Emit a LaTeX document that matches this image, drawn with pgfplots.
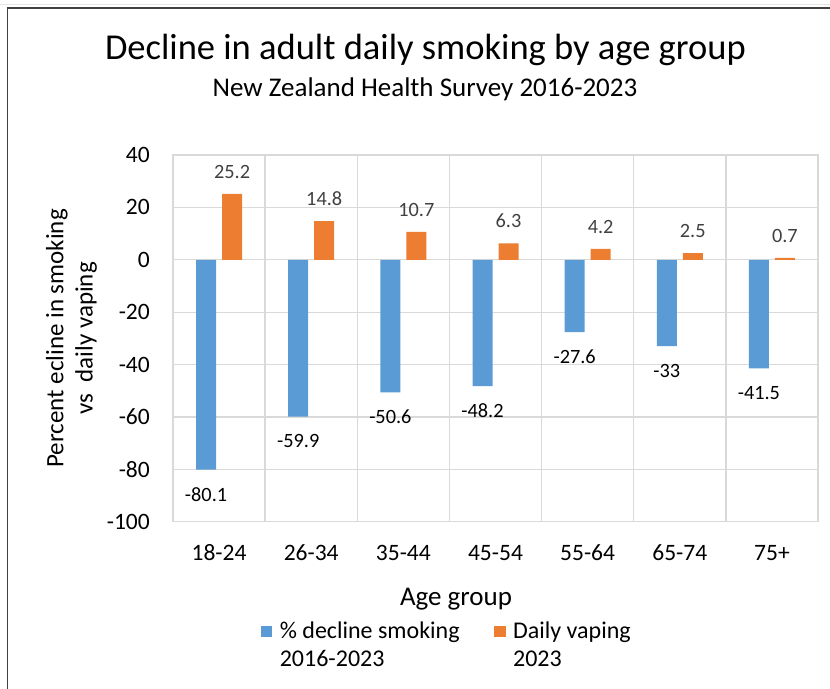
\documentclass[border=0pt]{standalone}
\usepackage{pgfplots}
\pgfplotsset{compat=1.18}
\usepackage{fontspec}
\setmainfont{Carlito}

\definecolor{smokeblue}{HTML}{5B9BD5}
\definecolor{vapeorange}{HTML}{ED7D31}
\definecolor{gridgray}{HTML}{D9D9D9}
\definecolor{framegray}{HTML}{404040}
\definecolor{labelgray}{HTML}{404040}

\newcommand{\titlefont}{\fontsize{36.5bp}{44bp}\selectfont}
\newcommand{\subtitlefont}{\fontsize{27bp}{32bp}\selectfont}
\newcommand{\axistitlefont}{\fontsize{27bp}{32bp}\selectfont}
\newcommand{\ylabelfont}{\fontsize{25bp}{29.4bp}\selectfont}
\newcommand{\tickfont}{\fontsize{23.5bp}{28bp}\selectfont}
\newcommand{\legendfont}{\fontsize{24bp}{28.4bp}\selectfont}
\newcommand{\datafont}{\fontsize{20.3bp}{24bp}\selectfont}

\pgfplotsset{
  squarelegend/.style={
    legend image code/.code={\fill[##1] (0bp,1bp) rectangle (11.6bp,12.3bp);}
  },
}

\begin{document}
\begin{tikzpicture}
\useasboundingbox (0,0) rectangle (830bp,-689bp);
% outer chart frame
\draw[gridgray!70, line width=1bp] (0bp,-4.5bp) -- (830bp,-4.5bp);
\draw[framegray, line width=1.6bp] (7.5bp,-689bp) -- (7.5bp,-8bp) -- (830bp,-8bp);
% titles
\node[anchor=base, font=\titlefont, inner sep=0pt] at (425.4bp,-59.3bp)
  {Decline in adult daily smoking by age group};
\node[anchor=base, font=\subtitlefont, inner sep=0pt] at (425bp,-96bp)
  {New Zealand Health Survey 2016-2023};

\begin{axis}[
  at={(173bp,-521.7bp)}, anchor=south west,
  scale only axis, width=645bp, height=366.7bp,
  xmin=-0.5, xmax=6.5, ymin=-100, ymax=40,
  ybar=6bp, bar width=20bp,
  xtick={0,...,6},
  xticklabels={18-24,26-34,35-44,45-54,55-64,65-74,75+},
  minor xtick={0.5,1.5,...,5.5},
  ytick={-100,-80,-60,-40,-20,0,20,40},
  xminorgrids, ymajorgrids,
  major tick length=0pt, minor tick length=0pt,
  tick style={draw=none},
  axis line style={draw=gridgray, line width=1.3bp},
  major grid style={draw=gridgray, line width=1.3bp},
  minor grid style={draw=gridgray, line width=1.3bp},
  /pgf/number format/assume math mode=true,
  yticklabel style={font=\tickfont, text=black, inner sep=0pt, anchor=east, xshift=-23bp},
  xticklabel style={font=\tickfont, text=black, inner sep=0pt, anchor=base, yshift=-38.3bp},
  xlabel={Age group},
  xlabel style={font=\axistitlefont, inner sep=0pt,
    at={(axis description cs:0.4388,-0.2272)}, anchor=base},
  ylabel={Percent ecline in smoking\\vs~~daily vaping},
  ylabel style={font=\ylabelfont, inner sep=0pt, align=center,
    at={(axis description cs:-0.1574,0.5)}, anchor=center},
  legend columns=2,
  legend style={
    at={(axis description cs:0.136,-0.2637)}, anchor=north west,
    draw=none, fill=none, inner sep=0pt, outer sep=0pt,
    font=\legendfont,
    nodes={inner sep=0pt, text depth=},
    cells={anchor=base west},
    /tikz/every odd column/.append style={column sep=7.5bp},
    /tikz/every even column/.append style={column sep=34.4bp},
  },
  clip=false,
]
% percentage decline in daily smoking, 2016-2023
\addplot[fill=smokeblue, draw=none, squarelegend,
  nodes near coords,
  every node near coord/.append style={font=\datafont, text=black, inner sep=0pt, yshift=-17.6bp}]
  coordinates {(0,-80.1) (1,-59.9) (2,-50.6) (3,-48.2) (4,-27.6) (5,-33) (6,-41.5)};
\addlegendentry{\begin{tabular}[t]{@{}l@{}}\% decline smoking\\2016-2023\end{tabular}}
% daily vaping prevalence, 2023
\addplot[fill=vapeorange, draw=none, squarelegend,
  nodes near coords,
  every node near coord/.append style={font=\datafont, text=labelgray, inner sep=0pt, yshift=15.1bp}]
  coordinates {(0,25.2) (1,14.8) (2,10.7) (3,6.3) (4,4.2) (5,2.5) (6,0.7)};
\addlegendentry{\begin{tabular}[t]{@{}l@{}}Daily vaping\\2023\end{tabular}}
\end{axis}
\end{tikzpicture}
\end{document}
